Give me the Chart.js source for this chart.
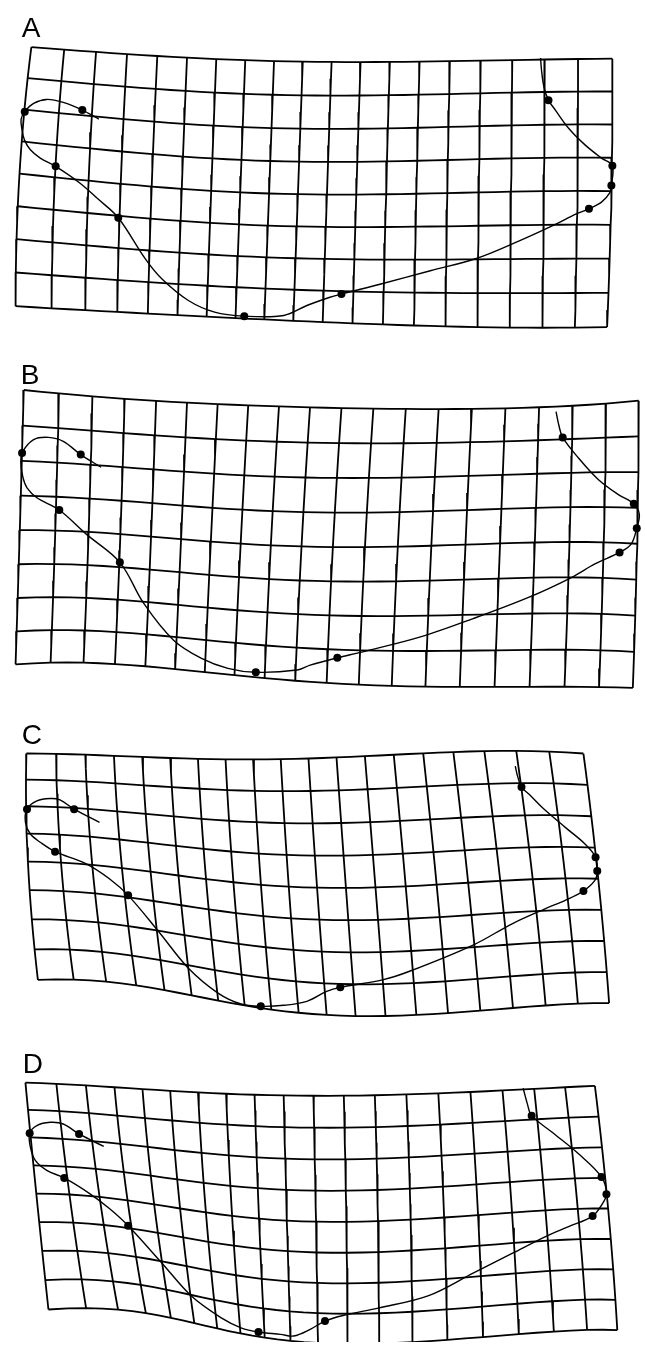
<!DOCTYPE html>
<html>
<head>
<meta charset="utf-8">
<script src="https://cdn.jsdelivr.net/npm/chart.js@4.4.1/dist/chart.umd.min.js"></script>
<style>
  html, body { margin: 0; padding: 0; background: #fff; }
  #wrap { position: relative; width: 645px; height: 1346px; }
</style>
</head>
<body>
<div id="wrap"><canvas id="grids"></canvas></div>
<script>
// panel letters and their anchor (page px, baseline)
const panelNames = ['A', 'B', 'C', 'D'];
const labelPos = [[18, 33], [17, 382], [18, 744], [19, 1075]];

// each grid has 20 vertical and 9 horizontal lines;
// nodes at these line indices
const gridCols = 20;
const gridRows = 9;
const keyCols = [0, 5, 10, 15, 19];
const keyRows = [0, 4, 8];

const nodesA = [
  [[27.7, 43.3], [185.3, 54], [331.7, 58.3], [482.7, 57], [616, 55]],
  [[15.7, 170.7], [180, 186], [327, 191.7], [480.7, 189.5], [615, 188.3]],
  [[11.7, 304], [175.7, 313], [322.7, 320], [479.3, 325], [610.7, 325]]
];
const nodesB = [
  [[20, 388.3], [185.3, 401], [341.7, 406.5], [507.7, 406.7], [642.7, 399]],
  [[16, 529.3], [179.3, 538.3], [333, 546.3], [502.3, 542.7], [641, 543]],
  [[11.7, 664.3], [173.3, 669], [326.7, 683], [496.7, 687], [636.7, 688]]
];
const nodesC = [
  [[22.7, 754], [168.3, 758.5], [308.3, 759], [455, 752.5], [586.7, 754]],
  [[24.2, 862.7], [176.7, 876.7], [317, 889], [470, 884], [601.7, 880]],
  [[34.3, 981.7], [190, 997.3], [326.7, 1017], [482.3, 1012.7], [612.7, 1005]]
];
const nodesD = [
  [[21.7, 1085], [168.3, 1093.3], [313.3, 1098.3], [472.3, 1094.5], [598.3, 1088.3]],
  [[32.7, 1196.7], [178.3, 1211.7], [316, 1225], [480, 1218.3], [611.7, 1211.7]],
  [[45, 1313.3], [192.7, 1327], [318, 1347], [485, 1341], [621, 1334]]
];

// landmarks (dots)
const marksA = [[21, 108.3], [79.3, 106.7], [52.3, 163.3], [115.7, 215], [243.3, 314],
  [341.7, 291.7], [592.3, 206], [615, 182.7], [616, 162.7], [551.3, 96.7]];
const marksB = [[18.3, 451.7], [77.7, 453.3], [56, 509], [117.3, 561.7], [255, 672.3],
  [337.5, 657.7], [623.3, 551.7], [640.7, 527.3], [637.7, 502.7], [565.7, 436]];
const marksC = [[23.3, 810], [71, 810], [51.7, 852.7], [125.7, 896.7], [260, 1008.3],
  [340.5, 989.2], [586.7, 892.3], [600.7, 872.3], [599, 858.3], [524, 787.7]];
const marksD = [[26, 1136], [76, 1136.7], [61, 1181], [125.7, 1229], [257.7, 1336],
  [325, 1325], [596, 1219.3], [610, 1197.3], [605, 1180], [534.3, 1118.3]];

// outline traced through the landmarks
const outlineA = [[96, 115.7], [79.3, 106.7], [60, 99], [43.3, 96], [30, 100], [21, 108.3],
  [17.3, 116], [18.3, 126.7], [20.7, 136.7], [26.7, 146.7], [36.7, 155], [52.3, 163.3],
  [76.7, 180], [95, 196], [115.7, 215], [143.3, 256.7], [160, 276.7], [186.7, 298.3],
  [213.3, 310], [243.3, 314], [283.3, 313.3], [306.7, 303.3], [330, 295], [341.7, 291.7],
  [381.7, 281.7], [431.7, 268.3], [478.3, 256], [521.7, 238.3], [558.3, 221.7], [578.3, 211.7],
  [592.3, 206], [605, 199.3], [613.3, 190], [615, 182.7], [616, 162.7], [605, 155],
  [588.3, 141.7], [571.7, 125], [558.3, 106.7], [551.3, 96.7], [546.7, 83.3], [544.3, 66.7],
  [543.3, 54.3]];
const outlineB = [[98.3, 466], [77.7, 453.3], [60, 440], [45, 436], [30, 438.3], [18.3, 451.7],
  [17.3, 463.3], [19.3, 476.7], [23.3, 486.7], [33.3, 496.7], [56, 509], [83.3, 533.3],
  [117.3, 561.7], [141.7, 603.3], [171.7, 640], [200, 658.3], [226.7, 668.3], [255, 672.3],
  [296.7, 670], [310, 665], [337.5, 657.7], [363.3, 651.7], [421.7, 636.7], [475, 618.3],
  [531.7, 596.7], [575, 576.7], [598.3, 563.3], [623.3, 551.7], [635, 543.3], [640.7, 527.3],
  [643.3, 513.3], [637.7, 502.7], [621.7, 493.3], [601.7, 478.3], [581.7, 456.7],
  [565.7, 436], [561.7, 423.3], [559, 410]];
const outlineC = [[96.7, 823.3], [71, 810], [56.7, 800.7], [46.7, 799.3], [33.3, 801.7],
  [23.3, 810], [21.7, 823.3], [26.7, 835], [36.7, 843.3], [51.7, 852.7], [83.3, 865],
  [106.7, 880], [125.7, 896.7], [156.7, 933.3], [186.7, 970], [216.7, 995], [240, 1006],
  [260, 1008.3], [283.3, 1007.3], [306.7, 1003.3], [326.7, 993.3], [340.5, 989.2],
  [383.3, 981.7], [410, 973.3], [475, 946.7], [515, 925], [548.3, 910], [568.3, 901.7],
  [586.7, 892.3], [598.3, 881.7], [600.7, 872.3], [599, 858.3], [588.3, 845], [568.3, 828.3],
  [545, 808.3], [531.7, 795], [524, 787.7], [520, 776.7], [517.7, 766.7]];
const outlineD = [[101, 1149.3], [76, 1136.7], [60, 1126.7], [46.7, 1125], [33.3, 1128.3],
  [26, 1136], [26.7, 1150], [31.7, 1163.3], [43.3, 1173.3], [61, 1181], [86.7, 1196.7],
  [106.7, 1211.7], [125.7, 1229], [160, 1266.7], [190, 1300], [220, 1321.7], [240, 1331.7],
  [257.7, 1336], [280, 1338.3], [293.3, 1340], [310, 1333.3], [325, 1325], [343.3, 1319.3],
  [380, 1311.7], [430, 1299.3], [475, 1276.7], [515, 1256.7], [548.3, 1240], [571.7, 1230],
  [596, 1219.3], [605, 1208.3], [610, 1197.3], [605, 1180], [581.7, 1156.7], [555, 1135],
  [534.3, 1118.3], [530, 1106.7], [525.7, 1090.7]];

const panels = [
  { nodes: nodesA, marks: marksA, outline: outlineA },
  { nodes: nodesB, marks: marksB, outline: outlineB },
  { nodes: nodesC, marks: marksC, outline: outlineC },
  { nodes: nodesD, marks: marksD, outline: outlineD }
];

function lagrange(ts, vs, t) {
  let s = 0;
  for (let k = 0; k < ts.length; k++) {
    let w = 1;
    for (let m = 0; m < ts.length; m++) {
      if (m !== k) w *= (t - ts[m]) / (ts[k] - ts[m]);
    }
    s += w * vs[k];
  }
  return s;
}

// place grid line position (u = column index, v = row index) through the read nodes
function gridPoint(nodes, u, v) {
  const xs = nodes.map(row => lagrange(keyCols, row.map(p => p[0]), u));
  const ys = nodes.map(row => lagrange(keyCols, row.map(p => p[1]), u));
  return { x: lagrange(keyRows, xs, v), y: lagrange(keyRows, ys, v) };
}

const toXY = arr => arr.map(p => ({ x: p[0], y: p[1] }));

const datasets = [];
panels.forEach(p => {
  for (let j = 0; j < gridRows; j++) {
    const pts = [];
    for (let u = 0; u <= gridCols - 1; u += 0.5) pts.push(gridPoint(p.nodes, u, j));
    datasets.push({ data: pts, showLine: true, borderColor: '#000', borderWidth: 1.8,
      pointRadius: 0, tension: 0 });
  }
  for (let i = 0; i < gridCols; i++) {
    const pts = [];
    for (let v = 0; v <= gridRows - 1; v += 0.5) pts.push(gridPoint(p.nodes, i, v));
    datasets.push({ data: pts, showLine: true, borderColor: '#000', borderWidth: 1.8,
      pointRadius: 0, tension: 0 });
  }
  datasets.push({ data: toXY(p.outline), showLine: true, borderColor: '#000', borderWidth: 1.4,
    pointRadius: 0, tension: 0.35 });
  datasets.push({ data: toXY(p.marks), showLine: false, pointRadius: 4,
    pointBackgroundColor: '#000', pointBorderColor: '#000', pointBorderWidth: 0 });
});

const panelLetters = {
  id: 'panelLetters',
  afterDraw(chart) {
    const ctx = chart.ctx;
    const sx = chart.scales.x, sy = chart.scales.y;
    ctx.save();
    ctx.fillStyle = '#000';
    ctx.font = '28px "Liberation Sans", Arial, sans-serif';
    ctx.textBaseline = 'alphabetic';
    panelNames.forEach((name, k) => {
      ctx.fillText(name, sx.getPixelForValue(labelPos[k][0]), sy.getPixelForValue(labelPos[k][1]));
    });
    ctx.restore();
  }
};

new Chart(document.getElementById('grids').getContext('2d'), {
  type: 'scatter',
  data: { datasets: datasets },
  options: {
    responsive: true,
    maintainAspectRatio: false,
    animation: false,
    layout: { padding: 0 },
    plugins: { legend: { display: false }, tooltip: { enabled: false } },
    scales: {
      x: { type: 'linear', min: 0, max: 645, display: false },
      y: { type: 'linear', min: 0, max: 1346, reverse: true, display: false }
    }
  },
  plugins: [panelLetters]
});
</script>
</body>
</html>
